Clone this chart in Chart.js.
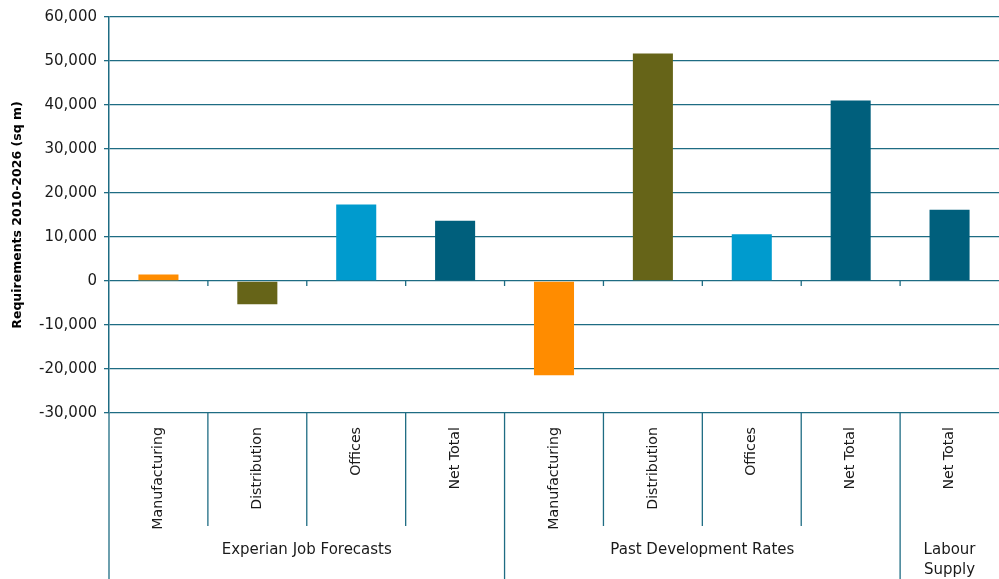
<!DOCTYPE html>
<html>
<head>
<meta charset="utf-8">
<script src="https://cdn.jsdelivr.net/npm/chart.js@4/dist/chart.umd.min.js"></script>
<style>
  html, body { margin: 0; padding: 0; background: #fff; }
  #wrap { width: 999px; height: 579px; position: relative; }
</style>
</head>
<body>
<div id="wrap"><canvas id="reqChart"></canvas></div>
<script>
// Floorspace requirements by scenario, 2010-2026 (sq m)
const categories = ['Manufacturing', 'Distribution', 'Offices', 'Net Total',
                    'Manufacturing', 'Distribution', 'Offices', 'Net Total',
                    'Net Total'];
const requirements = [1500, -5300, 17400, 13700, -21400, 51700, 10600, 41000, 16200];
const groups = [
    { label: ['Experian Job Forecasts'], from: 0, to: 3 },
    { label: ['Past Development Rates'], from: 4, to: 7 },
    { label: ['Labour', 'Supply'], from: 8, to: 8 }
];
const yTicks = { min: -30000, max: 60000, step: 10000 };

const barColours = ['#FF8C00', '#666418', '#009BCE', '#005F7C',
                    '#FF8C00', '#666418', '#009BCE', '#005F7C',
                    '#005F7C'];
const lineColour = '#1E6C83';
const textColour = '#1a1a1a';

// separators, zero-line ticks and the group labels under the category labels
const groupAxis = {
    id: 'groupAxis',
    afterDraw(chart) {
        const ctx = chart.ctx;
        const x = chart.scales.x;
        const y = chart.scales.y;
        const area = chart.chartArea;
        const y0 = y.getPixelForValue(0);
        const groupEnds = groups.map(g => g.to);

        ctx.save();
        ctx.strokeStyle = lineColour;
        ctx.lineWidth = 1.3;

        // left edge runs to the bottom
        ctx.beginPath();
        ctx.moveTo(area.left, area.bottom);
        ctx.lineTo(area.left, chart.height);
        ctx.stroke();

        for (let i = 0; i < categories.length - 1; i++) {
            const bx = (x.getPixelForValue(i) + x.getPixelForValue(i + 1)) / 2;
            const isGroupEdge = groupEnds.includes(i);
            ctx.beginPath();
            ctx.moveTo(bx, area.bottom);
            ctx.lineTo(bx, isGroupEdge ? chart.height : area.bottom + 113);
            ctx.stroke();
            // small tick on the zero line
            ctx.beginPath();
            ctx.moveTo(bx, y0);
            ctx.lineTo(bx, y0 + 5);
            ctx.stroke();
        }

        ctx.fillStyle = textColour;
        ctx.font = '15px "DejaVu Sans"';
        ctx.textAlign = 'center';
        ctx.textBaseline = 'middle';
        groups.forEach(g => {
            const half = (x.getPixelForValue(1) - x.getPixelForValue(0)) / 2;
            const cx = (x.getPixelForValue(g.from) - half + x.getPixelForValue(g.to) + half) / 2;
            g.label.forEach((line, k) => {
                ctx.fillText(line, cx, area.bottom + 137 + k * 20);
            });
        });
        ctx.restore();
    }
};

new Chart(document.getElementById('reqChart'), {
    type: 'bar',
    data: {
        labels: categories,
        datasets: [{
            data: requirements,
            backgroundColor: barColours,
            borderWidth: 0,
            barPercentage: 0.405,
            categoryPercentage: 1
        }]
    },
    options: {
        responsive: true,
        maintainAspectRatio: false,
        animation: false,
        layout: { padding: { top: 17, right: 0, bottom: 0, left: 0 } },
        plugins: {
            legend: { display: false },
            tooltip: { enabled: false }
        },
        scales: {
            x: {
                grid: { display: false },
                border: { display: false },
                ticks: {
                    autoSkip: false,
                    minRotation: 90,
                    maxRotation: 90,
                    padding: 6,
                    color: textColour,
                    font: { family: 'DejaVu Sans', size: 14.2 }
                },
                afterFit(scale) { scale.height = 166; }
            },
            y: {
                min: yTicks.min,
                max: yTicks.max,
                grid: {
                    color: lineColour,
                    lineWidth: 1.3,
                    tickLength: 5
                },
                border: { color: lineColour, width: 1.5 },
                ticks: {
                    stepSize: yTicks.step,
                    padding: 7,
                    color: textColour,
                    font: { family: 'DejaVu Sans', size: 15 },
                    callback: v => v.toLocaleString('en-GB')
                },
                title: {
                    display: true,
                    text: 'Requirements 2010-2026 (sq m)',
                    color: '#000',
                    padding: { top: 10, bottom: 0 },
                    font: { family: 'DejaVu Sans', size: 12.5, weight: 'bold' }
                },
                afterFit(scale) { scale.width = 109; }
            }
        }
    },
    plugins: [groupAxis]
});
</script>
</body>
</html>
